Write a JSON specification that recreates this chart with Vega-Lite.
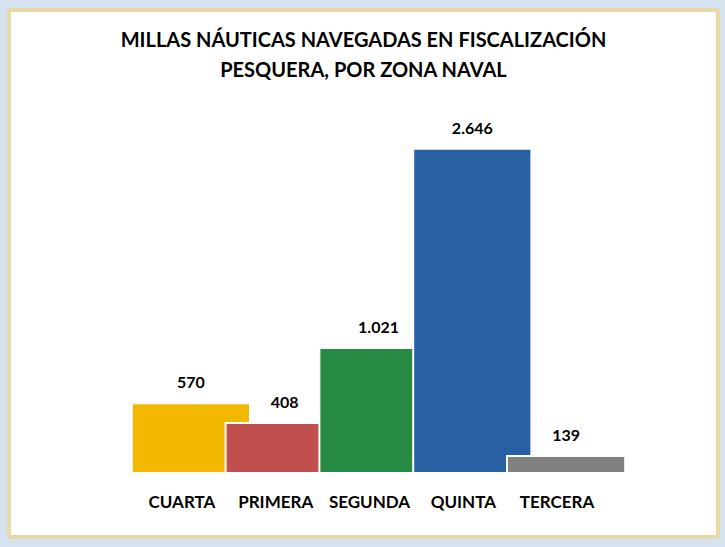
{
  "$schema": "https://vega.github.io/schema/vega-lite/v6.json",
  "width": 709,
  "height": 527,
  "autosize": {"type": "none"},
  "padding": {"left": 9, "top": 10, "right": 7, "bottom": 10},
  "background": "#d5e3f0",
  "config": {
    "view": {"fill": "white", "stroke": "#e9d9a6", "strokeWidth": 4, "cornerRadius": 2},
    "locale": {"number": {"decimal": ",", "thousands": ".", "grouping": [3], "currency": ["$", ""]}},
    "font": "Lato"
  },
  "title": {
    "text": ["MILLAS NÁUTICAS NAVEGADAS EN FISCALIZACIÓN", "PESQUERA, POR ZONA NAVAL"],
    "font": "Lato",
    "fontSize": 20,
    "fontWeight": "bold",
    "color": "#000000",
    "lineHeight": 30,
    "offset": -71,
    "anchor": "middle"
  },
  "data": {
    "values": [
      {"zona": "CUARTA", "millas": 570},
      {"zona": "PRIMERA", "millas": 408},
      {"zona": "SEGUNDA", "millas": 1021},
      {"zona": "QUINTA", "millas": 2646},
      {"zona": "TERCERA", "millas": 139}
    ]
  },
  "encoding": {
    "x": {
      "field": "zona",
      "type": "nominal",
      "sort": null,
      "axis": null,
      "scale": {"range": [123, 592], "paddingInner": 0, "paddingOuter": 0}
    }
  },
  "layer": [
    {
      "mark": {"type": "bar", "width": {"band": 1.26}, "xOffset": 12, "stroke": "white", "strokeWidth": 2},
      "encoding": {
        "y": {"field": "millas", "type": "quantitative", "axis": null, "scale": {"domain": [-522, 3779], "nice": false, "zero": false}},
        "y2": {"datum": 0},
        "color": {
          "field": "zona",
          "type": "nominal",
          "legend": null,
          "scale": {
            "domain": ["CUARTA", "PRIMERA", "SEGUNDA", "QUINTA", "TERCERA"],
            "range": ["#f2b800", "#c0504d", "#278b45", "#2860a4", "#808080"]
          }
        }
      }
    },
    {
      "mark": {"type": "text", "fontWeight": "bold", "fontSize": 16, "dy": -20, "xOffset": 12, "baseline": "middle", "color": "#000000"},
      "encoding": {
        "y": {"field": "millas", "type": "quantitative"},
        "text": {"field": "millas", "type": "quantitative", "format": ",d"}
      }
    },
    {
      "mark": {"type": "text", "fontWeight": "bold", "fontSize": 17, "baseline": "middle", "xOffset": 3, "color": "#000000"},
      "encoding": {
        "y": {"datum": -245},
        "text": {"field": "zona", "type": "nominal"}
      }
    }
  ]
}
